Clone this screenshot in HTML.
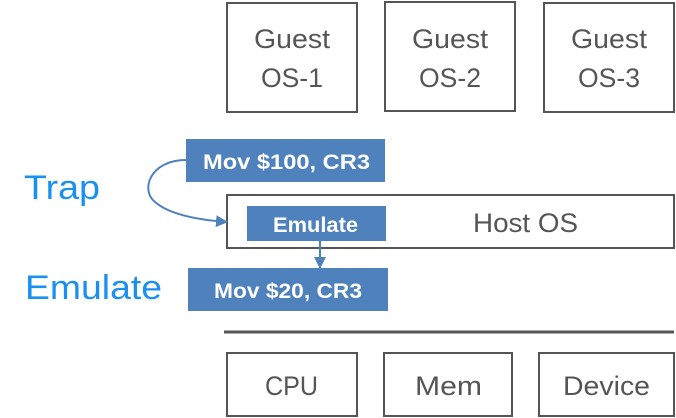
<!DOCTYPE html>
<html><head><style>body{margin:0;background:#fff}svg{display:block}</style></head><body>
<svg width="676" height="418" viewBox="0 0 676 418" xmlns="http://www.w3.org/2000/svg" font-family="Liberation Sans, sans-serif">
<defs><marker id="a" markerWidth="12" markerHeight="12" refX="11" refY="6" orient="auto" markerUnits="userSpaceOnUse"><path d="M0,0 L12,6 L0,12 z" fill="#4f81bd"/></marker></defs>
<g fill="none" stroke="#555" stroke-width="2">
<rect x="227" y="3" width="130" height="109"/>
<rect x="385" y="2" width="130" height="109"/>
<rect x="544" y="3" width="130" height="109"/>
<rect x="227" y="195" width="447" height="53"/>
<rect x="227" y="353" width="130" height="63"/>
<rect x="384" y="353" width="128" height="63"/>
<rect x="539" y="353" width="135" height="63"/>
</g>
<line x1="224" y1="332" x2="674" y2="332" stroke="#555" stroke-width="3"/>
<g fill="#555" font-size="27">
<text x="254" y="48" textLength="76" lengthAdjust="spacingAndGlyphs">Guest</text><text x="261" y="87" textLength="62" lengthAdjust="spacingAndGlyphs">OS-1</text>
<text x="412" y="48" textLength="76" lengthAdjust="spacingAndGlyphs">Guest</text><text x="419" y="87" textLength="62" lengthAdjust="spacingAndGlyphs">OS-2</text>
<text x="571" y="48" textLength="76" lengthAdjust="spacingAndGlyphs">Guest</text><text x="578" y="87" textLength="62" lengthAdjust="spacingAndGlyphs">OS-3</text>
<text x="473" y="232" textLength="105" lengthAdjust="spacingAndGlyphs">Host OS</text>
<text x="265" y="395" textLength="53" lengthAdjust="spacingAndGlyphs">CPU</text>
<text x="415" y="395" textLength="67" lengthAdjust="spacingAndGlyphs">Mem</text>
<text x="563" y="395" textLength="87" lengthAdjust="spacingAndGlyphs">Device</text>
</g>
<rect x="186" y="139" width="199" height="43" fill="#4f81bd"/>
<rect x="247" y="206" width="139" height="35" fill="#4f81bd"/>
<rect x="188" y="268" width="200" height="43" fill="#4f81bd"/>
<g fill="#fff" font-size="21" font-weight="bold">
<text x="203" y="169" textLength="167" lengthAdjust="spacingAndGlyphs">Mov $100, CR3</text>
<text x="273" y="232" textLength="85" lengthAdjust="spacingAndGlyphs">Emulate</text>
<text x="214" y="298" textLength="148" lengthAdjust="spacingAndGlyphs">Mov $20, CR3</text>
</g>
<path d="M186,160 C150,160 140,190 155,202 C170,215 200,220 227,222" fill="none" stroke="#4f81bd" stroke-width="2" marker-end="url(#a)"/>
<line x1="320" y1="241" x2="320" y2="268" stroke="#4f81bd" stroke-width="2" marker-end="url(#a)"/>
<g fill="#1a90f0" font-size="34">
<text x="24" y="199" textLength="76" lengthAdjust="spacingAndGlyphs">Trap</text>
<text x="25" y="299" textLength="137" lengthAdjust="spacingAndGlyphs">Emulate</text>
</g>
</svg>
</body></html>
